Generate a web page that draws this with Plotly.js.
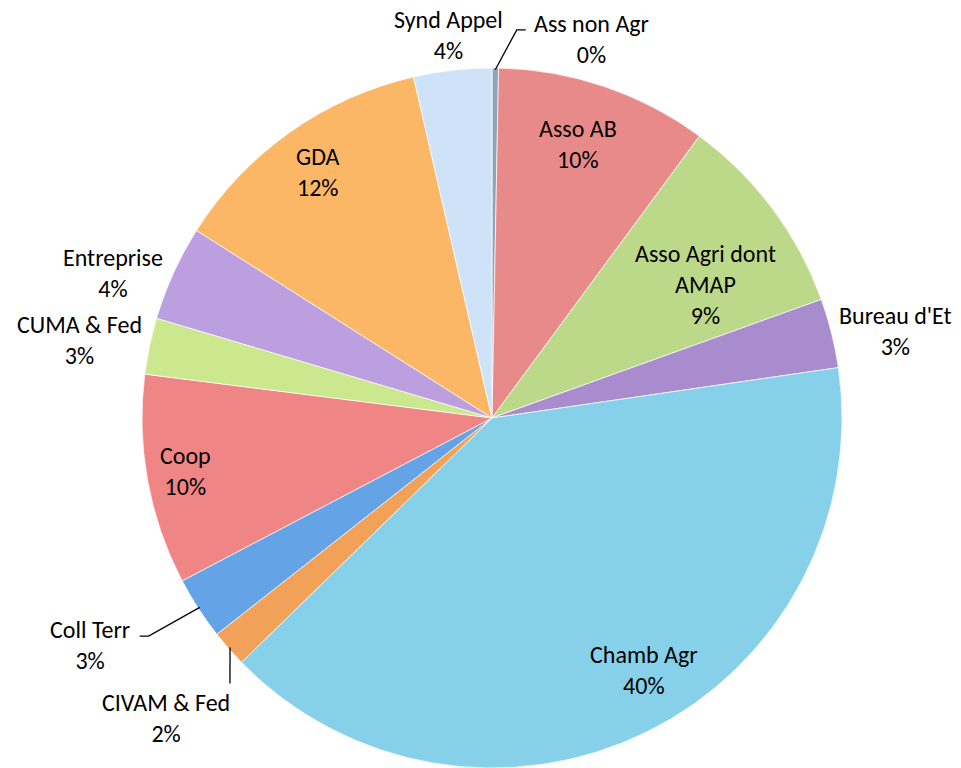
<!DOCTYPE html>
<html>
<head>
<meta charset="utf-8">
<script src="https://cdn.plot.ly/plotly-3.0.1.min.js"></script>
<style>html,body{margin:0;padding:0;background:#fff;}#chart{width:961px;height:768px;}</style>
</head>
<body>
<div id="chart"></div>
<script>
// Data (percent of total)
var categories = ["Ass non Agr", "Asso AB", "Asso Agri dont AMAP", "Bureau d'Et", "Chamb Agr", "CIVAM & Fed", "Coll Terr", "Coop", "CUMA & Fed", "Entreprise", "GDA", "Synd Appel"];
var displayLabels = ["Ass non Agr", "Asso AB", "Asso Agri dont<br>AMAP", "Bureau d'Et", "Chamb Agr", "CIVAM & Fed", "Coll Terr", "Coop", "CUMA & Fed", "Entreprise", "GDA", "Synd Appel"];
var values = [0.3, 9.8, 9.4, 3.2, 40.0, 1.7, 2.9, 9.7, 2.6, 4.4, 12.4, 3.6];

// Styles
var colors = ["#8ea4ba", "#e98a8a", "#bcd98a", "#a88ccd", "#86d1e9", "#f2a158", "#64a4e6", "#ef8585", "#cce88f", "#bb9fdf", "#fbb766", "#cfe3f8"];
// label placement: radius factor and angle offset (deg) relative to slice middle
var labRadius = [1.12, 0.82, 0.72, 1.18, 0.84, 1.265, 1.32, 0.89, 1.20, 1.16, 0.86, 1.10];
var labOffset = [14.2, -1.3, 4.7, 1.9, -4.9, -1.35, 3.5, 0.5, -1.2, -3.6, 0.0, 0.0];
// leader lines: [elbow dx, elbow dy, end dx, end dy] in px from label centre (null = none)
var leaders = [[-75, -9, -66, -9], null, null, null, null, [64, -34, 64, -34], [59, -9, 50, -9], null, null, null, null, null];

var W = 961, H = 768;
var cx = 492, cy = 418, R = 350;
var dom = {x: [(cx - R) / W, (cx + R) / W], y: [1 - (cy + R) / H, 1 - (cy - R) / H]};
function X(p) { return (p / W).toFixed(5); }
function Y(p) { return (1 - p / H).toFixed(5); }

var total = values.reduce(function (a, b) { return a + b; }, 0);
var annotations = [];
var shapes = [];
var cum = 0;
for (var i = 0; i < values.length; i++) {
  var mid = (cum + values[i] / 2) / total * 360;
  cum += values[i];
  var ang = (mid + labOffset[i]) * Math.PI / 180;
  var px = cx + R * labRadius[i] * Math.sin(ang);
  var py = cy - R * labRadius[i] * Math.cos(ang);
  var txt = displayLabels[i] + "<br>" + Math.round(values[i] / total * 100) + "%";
  annotations.push({
    xref: "paper", yref: "paper", x: px / W, y: 1 - py / H,
    xanchor: "center", yanchor: "middle",
    text: txt, showarrow: false,
    font: {family: "Carlito, Lato, sans-serif", size: 24, color: "#000"}
  });
  if (leaders[i]) {
    var ma = mid * Math.PI / 180;
    var sx = cx + R * 0.995 * Math.sin(ma);
    var sy = cy - R * 0.995 * Math.cos(ma);
    var L = leaders[i];
    shapes.push({
      type: "path", xref: "paper", yref: "paper",
      path: "M" + X(sx) + "," + Y(sy) + " L" + X(px + L[0]) + "," + Y(py + L[1]) + " L" + X(px + L[2]) + "," + Y(py + L[3]),
      line: {color: "#000", width: 1.3}
    });
  }
}

var trace = {
  type: "pie",
  labels: categories,
  values: values,
  sort: false,
  direction: "clockwise",
  rotation: 0,
  textinfo: "none",
  hoverinfo: "label+percent",
  domain: dom,
  marker: {colors: colors, line: {color: "rgba(255,255,255,0.7)", width: 1}}
};

var layout = {
  width: W, height: H,
  margin: {l: 0, r: 0, t: 0, b: 0},
  showlegend: false,
  paper_bgcolor: "#fff",
  annotations: annotations,
  shapes: shapes
};

Plotly.newPlot("chart", [trace], layout, {displayModeBar: false, staticPlot: true});
</script>
</body>
</html>
